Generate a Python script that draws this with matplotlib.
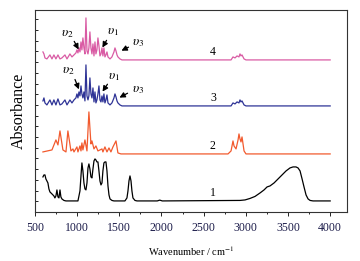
import numpy as np
import matplotlib
matplotlib.use("Agg")
import matplotlib.pyplot as plt
from matplotlib.ticker import MultipleLocator

plt.rcParams['font.family'] = ['Liberation Serif', 'DejaVu Serif']
plt.rcParams['mathtext.fontset'] = 'stix'

# spectrum 1 (black): wavenumber / absorbance above its baseline
wn_1 = [595, 607, 619, 630, 642, 654, 666, 678, 702, 725, 737, 749, 761, 773, 785, 797, 808, 820, 844, 868,
        1010, 1034, 1046, 1057, 1069, 1081, 1093, 1105, 1117, 1129, 1140, 1152, 1164, 1176, 1188, 1200, 1212,
        1223, 1235, 1247, 1259, 1271, 1283, 1295, 1306, 1318, 1330, 1342, 1354, 1366, 1378, 1390, 1413, 1437,
        1567, 1591, 1603, 1615, 1627, 1639, 1650, 1662, 1686, 1710, 1950, 1980, 2010, 2931, 2991, 3050, 3109,
        3169, 3216, 3252, 3287, 3335, 3406, 3477, 3524, 3560, 3595, 3619, 3643, 3667, 3690, 3714, 3738, 3762,
        3797, 4000]
ab_1 = [24, 26, 26, 22, 20, 18, 12, 9, 7, 5, 3, 5, 11, 4, 3, 11, 4, 2, 0.5, 0,
        0, 10, 25, 38, 30, 18, 12, 11, 18, 33, 37, 32, 24, 23, 32, 40, 42,
        41, 39, 39, 30, 20, 16, 18, 30, 38, 39, 39, 30, 15, 6, 2, 0.5, 0,
        0, 3, 10, 20, 25, 20, 10, 3, 0.5, 0, 0, 0.8, 0, 0.5, 1, 2.5, 4.5,
        8, 11, 14, 15, 18, 24, 30, 33, 34, 34, 33, 30, 22, 14, 6, 2, 0.5,
        0, 0]

# spectrum 2 (orange)
wn_2 = [595, 702, 749, 773, 797, 832, 868, 891, 927, 951, 963, 998, 1010, 1034, 1046, 1057, 1069, 1093,
        1117, 1140, 1164, 1176, 1200, 1223, 1247, 1295, 1306, 1330, 1354, 1378, 1401, 1425, 1461, 1484, 1520,
        2789, 2825, 2848, 2860, 2884, 2908, 2919, 2931, 2943, 2955, 2967, 2979, 3002, 4000]
ab_2 = [2, 4, 14, 9, 23, 4, 2, 23, 3, 5, 2, 7, 2, 8, 3, 11, 4, 14,
        3, 42, 10, 13, 5, 8, 3, 5, 2, 7, 2, 6, 2, 7, 13, 1, 0,
        0, 3, 13, 8, 5, 14, 20, 15, 12, 17, 10, 3, 0, 0]

# spectrum 3 (blue)
wn_3 = [595, 607, 619, 642, 678, 702, 725, 749, 773, 797, 820, 856, 880, 915, 939,
        963, 986, 998, 1010, 1022, 1034, 1046, 1057, 1069, 1081, 1093, 1105, 1117, 1129, 1140, 1152, 1164,
        1176, 1188, 1200, 1212, 1223, 1235, 1247, 1259, 1271, 1283, 1295, 1306, 1318, 1330, 1342, 1354, 1366,
        1378, 1390, 1413, 1437, 1449, 1461, 1473, 1484, 1496, 1508, 1532, 1567,
        2825, 2848, 2872, 2896, 2919, 2931, 2943, 2955, 2979, 3002, 4000]
ab_3 = [5, 8, 3, 1, 6, 1, 6, 1, 7, 1, 2, 6, 1, 6, 3,
        6, 8, 12, 8, 14, 10, 20, 12, 8, 14, 5, 41, 10, 6, 10, 28, 12,
        8, 18, 4, 14, 3, 6, 12, 20, 6, 4, 10, 4, 12, 3, 6, 11, 3,
        2, 1, 3, 8, 12, 9, 5, 3, 2, 1, 0, 0,
        0, 3, 2, 4, 3, 6, 4, 5, 1, 0, 0]

# spectrum 4 (pink)
wn_4 = [595, 607, 619, 642, 678, 702, 725, 749, 773, 797, 820, 856, 880, 915, 939,
        963, 986, 998, 1010, 1022, 1034, 1046, 1057, 1069, 1081, 1093, 1105, 1117, 1129, 1140, 1152, 1164,
        1176, 1188, 1200, 1212, 1223, 1235, 1247, 1259, 1271, 1283, 1295, 1306, 1318, 1330, 1342, 1354, 1366,
        1378, 1390, 1413, 1437, 1449, 1461, 1473, 1484, 1496, 1508, 1532, 1567,
        2825, 2848, 2872, 2896, 2919, 2931, 2943, 2955, 2979, 3002, 4000]
ab_4 = [8, 6, 2, 1, 5, 1, 5, 1, 5, 1, 2, 5, 1, 6, 3,
        5, 7, 10, 7, 12, 8, 18, 10, 22, 12, 6, 42, 9, 6, 12, 28, 12,
        6, 16, 4, 18, 6, 10, 22, 14, 4, 6, 12, 4, 12, 3, 5, 8, 3,
        2, 1, 3, 8, 12, 9, 5, 3, 2, 1, 0, 0,
        0, 3, 2, 4, 3, 6, 4, 5, 1, 0, 0]

offsets = [11, 58, 106, 152]
colors = ['black', '#f25a2e', '#2e3396', '#d95ba4']
labels = ['1', '2', '3', '4']
label_wn = 2610

fig = plt.figure(figsize=(3.6, 2.61), dpi=100)
ax = fig.add_axes([0.097, 0.188, 0.867, 0.774])

spectra = [(wn_1, ab_1), (wn_2, ab_2), (wn_3, ab_3), (wn_4, ab_4)]
for (wn, ab), off, c, lab in zip(spectra, offsets, colors, labels):
    ax.plot(wn, np.array(ab) + off, color=c, lw=0.9)
    ax.text(label_wn, off + 8, lab, fontsize=8.5, ha='center', va='center')

# vibration mode annotations: (text, text position, arrow tail, arrow head)
notes = [
    (r'$\upsilon_2$', (880, 178), (950, 173), (1034, 160)),
    (r'$\upsilon_1$', (1430, 180), (1366, 174), (1283, 162)),
    (r'$\upsilon_3$', (1720, 169), (1639, 166), (1496, 160)),
    (r'$\upsilon_2$', (891, 141), (963, 135), (1034, 120)),
    (r'$\upsilon_1$', (1440, 135), (1378, 130), (1283, 118)),
    (r'$\upsilon_3$', (1720, 122), (1627, 120), (1473, 113)),
]
for txt, pos, tail, head in notes:
    ax.text(pos[0], pos[1], txt, fontsize=9.5, ha='center', va='center')
    ax.annotate('', xy=head, xytext=tail,
                arrowprops=dict(arrowstyle='-|>', color='black', lw=0.9, mutation_scale=8))

ax.set_xlim(500, 4200)
ax.set_ylim(0, 202)
ax.set_xticks([500, 1000, 1500, 2000, 2500, 3000, 3500, 4000])
ax.xaxis.set_minor_locator(MultipleLocator(250))
ax.yaxis.set_major_locator(MultipleLocator(10.7))
ax.set_yticklabels([])
ax.tick_params(axis='x', direction='out', length=3, width=0.6, labelsize=8.5, pad=4,
               labelcolor='#1c1c4a')
ax.tick_params(axis='x', which='minor', direction='out', length=1.5, width=0.6)
ax.tick_params(axis='y', direction='in', length=2.5, width=0.6, left=True, right=False)
for s in ax.spines.values():
    s.set_linewidth(0.8)
    s.set_color('#333333')

ax.set_xlabel('Wavenumber / cm$^{-1}$', fontsize=7.5, labelpad=8)
ax.set_ylabel('Absorbance', fontsize=11.5, labelpad=2)

fig.savefig('out.png', dpi=100)
